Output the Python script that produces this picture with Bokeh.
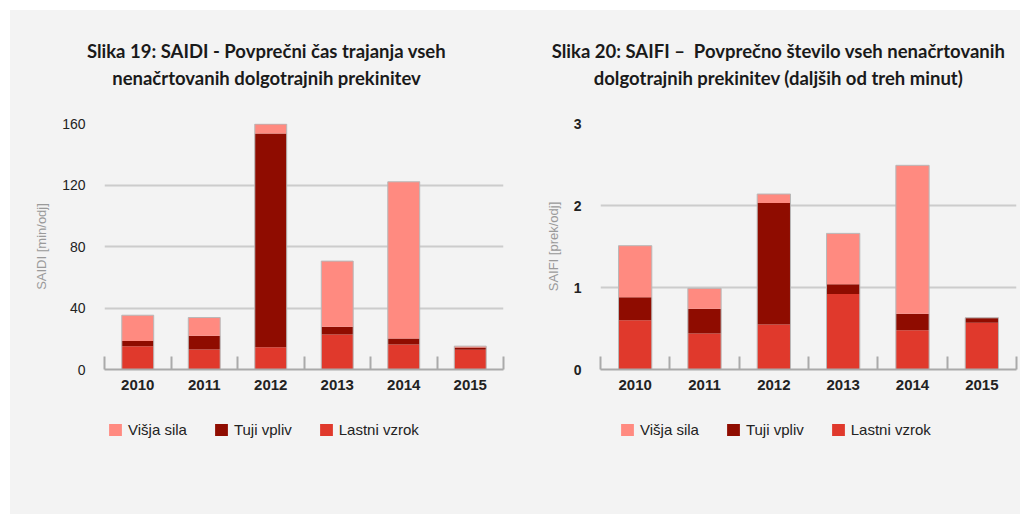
from bokeh.plotting import figure
from bokeh.models import ColumnDataSource, Range1d, FixedTicker, Legend, LegendItem, Label
from bokeh.layouts import row, column
from bokeh.embed import file_html
from bokeh.resources import INLINE

# ---- data ----
years = ["2010", "2011", "2012", "2013", "2014", "2015"]

saidi_lastni = [15.2, 13.0, 14.5, 22.8, 16.3, 12.8]
saidi_tuji = [3.4, 8.9, 139.0, 5.0, 3.9, 1.5]
saidi_visja = [16.7, 11.9, 6.1, 42.7, 101.9, 0.9]

saifi_lastni = [0.60, 0.44, 0.55, 0.92, 0.48, 0.57]
saifi_tuji = [0.28, 0.30, 1.48, 0.12, 0.20, 0.06]
saifi_visja = [0.63, 0.25, 0.11, 0.62, 1.81, 0.0]

saidi_ticks = [0, 40, 80, 120, 160]
saifi_ticks = [0, 1, 2, 3]

series_names = ["Višja sila", "Tuji vpliv", "Lastni vzrok"]
series_colors = ["#ff8a80", "#8f0c00", "#e0392c"]

title1 = ["Slika 19: SAIDI - Povprečni čas trajanja vseh",
          "nenačrtovanih dolgotrajnih prekinitev"]
title2 = ["Slika 20: SAIFI \u2013 \u00a0Povprečno število vseh nenačrtovanih",
          "dolgotrajnih prekinitev (daljših od treh minut)"]

BG = "#f3f3f3"
TITLE_H = 90
LEG_H = 109


def blank_fig(w, h):
    f = figure(width=w, height=h, min_border=0, x_axis_type=None, y_axis_type=None,
               x_range=Range1d(0, 1), y_range=Range1d(0, 1),
               output_backend="svg", toolbar_location=None,
               background_fill_color=BG, border_fill_color=BG, outline_line_color=None)
    f.grid.visible = False
    return f


def title_fig(w, lines, cx):
    f = blank_fig(w, TITLE_H)
    for i, t in enumerate(lines):
        f.add_layout(Label(x=cx, y=49.5 - 27 * i, x_units="screen", y_units="screen",
                           text=t, text_align="center", text_baseline="middle",
                           text_font="Lato", text_font_size="18.5px",
                           text_font_style="bold", text_color="#1a1a1a"))
    return f


def legend_fig(w, lx):
    f = blank_fig(w, LEG_H)
    # zero-size proxy glyphs: only used to draw the legend swatches
    rends = [f.vbar(x=[0], top=[0], bottom=[0], width=0, fill_color=c, line_color=None)
             for c in series_colors]
    items = [LegendItem(label=n, renderers=[r]) for n, r in zip(series_names, rends)]
    leg = Legend(items=items, location=(lx, 76), orientation="horizontal",
                 padding=0, margin=0, spacing=26, label_standoff=5,
                 glyph_width=16, glyph_height=15, label_height=15,
                 label_text_font="Liberation Sans", label_text_font_size="15px",
                 label_text_color="#222222", border_line_color=None,
                 background_fill_alpha=0)
    f.add_layout(leg)
    return f


def make_chart(ylabel, lastni, tuji, visja, yticks, mb_left, fw, mb_right, ybold):
    xs = list(range(len(years)))
    total = [a + b + c for a, b, c in zip(lastni, tuji, visja)]
    src = ColumnDataSource(dict(x=xs, lastni=lastni, tuji=tuji, visja=visja, total=total))

    p = figure(frame_width=fw, frame_height=246,
               min_border_left=mb_left, min_border_right=mb_right,
               min_border_top=23, min_border_bottom=36,
               x_range=Range1d(-0.5, len(years) - 0.5),
               y_range=Range1d(0, max(yticks)),
               output_backend="svg", toolbar_location=None,
               background_fill_color=BG, border_fill_color=BG,
               outline_line_color=None)

    p.vbar_stack(["lastni", "tuji", "visja"], x="x", width=0.48,
                 color=[series_colors[2], series_colors[1], series_colors[0]],
                 line_color=None, source=src)
    p.vbar(x="x", top="total", width=0.48, source=src,
           fill_color=None, line_color="#b8b8b8", line_width=1)

    p.xaxis.ticker = FixedTicker(ticks=xs, minor_ticks=[i - 0.5 for i in range(len(years) + 1)])
    p.xaxis.major_label_overrides = {i: y for i, y in enumerate(years)}
    p.xaxis.major_tick_in = 0
    p.xaxis.major_tick_out = 0
    p.xaxis.minor_tick_in = 13
    p.xaxis.minor_tick_out = 0
    p.xaxis.minor_tick_line_color = "#aaaaaa"
    p.xaxis.minor_tick_line_width = 2
    p.xaxis.axis_line_color = "#aaaaaa"
    p.xaxis.axis_line_width = 2
    p.xaxis.major_label_standoff = 10
    p.xaxis.major_label_text_font = "Liberation Sans"
    p.xaxis.major_label_text_font_size = "15px"
    p.xaxis.major_label_text_font_style = "bold"
    p.xaxis.major_label_text_color = "#222222"

    p.yaxis.ticker = FixedTicker(ticks=yticks, minor_ticks=[])
    p.yaxis.axis_line_color = None
    p.yaxis.major_tick_line_color = None
    p.yaxis.minor_tick_line_color = None
    p.yaxis.major_tick_in = 0
    p.yaxis.major_tick_out = 0
    p.yaxis.major_label_standoff = 19
    p.yaxis.major_label_text_font = "Liberation Sans"
    p.yaxis.major_label_text_font_size = "14px"
    p.yaxis.major_label_text_font_style = "bold" if ybold else "normal"
    p.yaxis.major_label_text_color = "#222222"
    p.yaxis.axis_label = ylabel
    p.yaxis.axis_label_standoff = 10
    p.yaxis.axis_label_text_font = "Liberation Sans"
    p.yaxis.axis_label_text_font_size = "13px"
    p.yaxis.axis_label_text_font_style = "normal"
    p.yaxis.axis_label_text_color = "#9a9a9a"

    p.xgrid.grid_line_color = None
    p.ygrid.grid_line_color = "#cccccc"
    p.ygrid.grid_line_width = 2
    return p


p1 = make_chart("SAIDI [min/odj]", saidi_lastni, saidi_tuji, saidi_visja,
                saidi_ticks, 94, 399, 15, False)
p2 = make_chart("SAIFI [prek/odj]", saifi_lastni, saifi_tuji, saifi_visja,
                saifi_ticks, 82, 416, 4, True)

t1 = title_fig(508, title1, 256)
t2 = title_fig(502, title2, 260)
l1 = legend_fig(508, 97)
l2 = legend_fig(502, 101)

bgstyle = {"background-color": BG}
layout = column(row(t1, t2, spacing=0, styles=bgstyle),
                row(p1, p2, spacing=0, styles=bgstyle),
                row(l1, l2, spacing=0, styles=bgstyle),
                spacing=0, margin=(10, 0, 0, 10), styles=bgstyle)
open("out.html", "w").write(file_html(layout, INLINE))
